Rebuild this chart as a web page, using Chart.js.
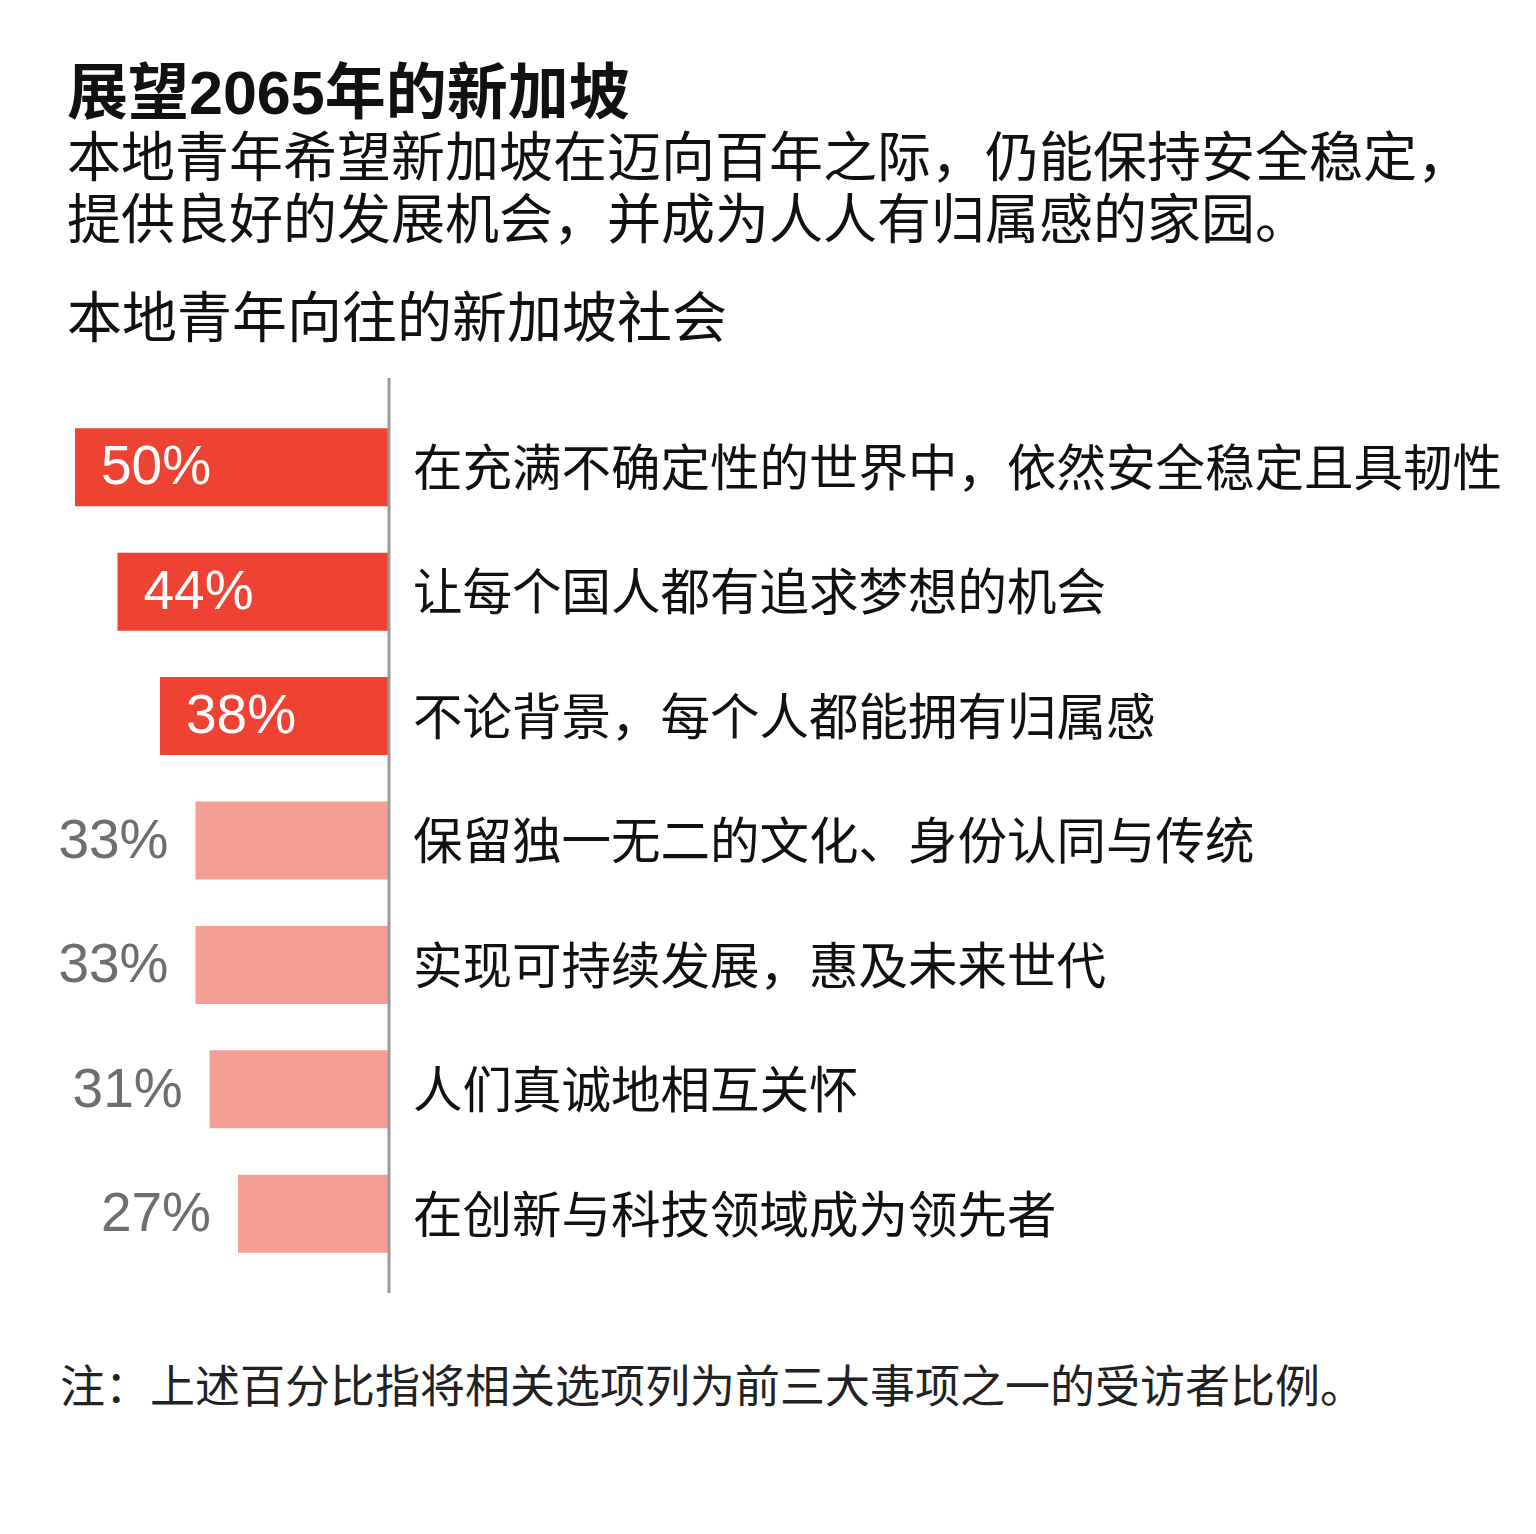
<!DOCTYPE html>
<html lang="zh-CN">
<head>
<meta charset="utf-8">
<script src="https://cdn.jsdelivr.net/npm/chart.js@4"></script>
<style>
  html, body { margin: 0; padding: 0; background: #fff; }
  body { width: 1536px; height: 1534px; position: relative; overflow: hidden;
         font-family: "Liberation Sans", "Noto Sans CJK SC", sans-serif; color: #111; }
  .txt { position: absolute; left: 67px; white-space: nowrap; }
  #title { top: 63px; font-size: 61px; line-height: 61px; font-weight: 700; }
  #sub { top: 127px; font-size: 54px; line-height: 62px; }
  #head { top: 287px; font-size: 55px; line-height: 62px; }
  #note { top: 1365px; left: 60px; font-size: 45px; line-height: 45px; color: #222; }
  #wrap { position: absolute; left: 0; top: 378px; width: 1536px; height: 915px; }
</style>
</head>
<body>
<div class="txt" id="title">展望2065年的新加坡</div>
<div class="txt" id="sub">本地青年希望新加坡在迈向百年之际，仍能保持安全稳定，<br>提供良好的发展机会，并成为人人有归属感的家园。</div>
<div class="txt" id="head">本地青年向往的新加坡社会</div>
<div id="wrap"><canvas id="bar-chart"></canvas></div>
<div class="txt" id="note">注：上述百分比指将相关选项列为前三大事项之一的受访者比例。</div>

<script>
const categories = [
  "在充满不确定性的世界中，依然安全稳定且具韧性",
  "让每个国人都有追求梦想的机会",
  "不论背景，每个人都能拥有归属感",
  "保留独一无二的文化、身份认同与传统",
  "实现可持续发展，惠及未来世代",
  "人们真诚地相互关怀",
  "在创新与科技领域成为领先者"
];
const shares = [50, 44, 38, 33, 33, 31, 27];
const topCount = 3; // first three bars are highlighted
const barColors = shares.map((v, i) => i < topCount ? "#ee4232" : "#f59e96");

// axis line and value labels
const extras = {
  id: "extras",
  afterDatasetsDraw(chart) {
    const ctx = chart.ctx;
    const area = chart.chartArea;
    ctx.save();
    ctx.strokeStyle = "#9a9a9a";
    ctx.lineWidth = 3;
    ctx.beginPath();
    ctx.moveTo(area.right + 1, 0);
    ctx.lineTo(area.right + 1, chart.height);
    ctx.stroke();

    ctx.font = "55px 'Liberation Sans', Arial, sans-serif";
    ctx.textBaseline = "middle";
    chart.getDatasetMeta(0).data.forEach(function (bar, i) {
      const label = shares[i] + "%";
      if (i < topCount) {
        ctx.fillStyle = "#ffffff";
        ctx.textAlign = "left";
        ctx.fillText(label, bar.x + 26, bar.y + 2);
      } else {
        ctx.fillStyle = "#6e6e6e";
        ctx.textAlign = "right";
        ctx.fillText(label, bar.x - 27, bar.y + 2);
      }
    });
    ctx.restore();
  }
};

new Chart("bar-chart", {
  type: "bar",
  data: {
    labels: categories,
    datasets: [
      {
        data: shares,
        backgroundColor: barColors,
        borderWidth: 0,
        categoryPercentage: 1,
        barPercentage: 0.627
      }
    ]
  },
  options: {
    indexAxis: "y",
    responsive: true,
    maintainAspectRatio: false,
    animation: false,
    layout: { padding: { left: 20, right: 0, top: 27, bottom: 17 } },
    plugins: {
      legend: { display: false },
      tooltip: { enabled: false }
    },
    scales: {
      x: {
        display: false,
        reverse: true,
        min: 5.83,
        max: 57.76
      },
      y: {
        position: "right",
        grid: { display: false },
        border: { display: false },
        ticks: {
          padding: 17,
          color: "#111",
          font: { family: "'Noto Sans CJK SC', sans-serif", size: 49.5 }
        },
        afterFit(scale) {
          scale.width = 1536 - 388;
          scale.paddingTop = 0;
          scale.paddingBottom = 0;
        }
      }
    }
  },
  plugins: [extras]
});
</script>
</body>
</html>
